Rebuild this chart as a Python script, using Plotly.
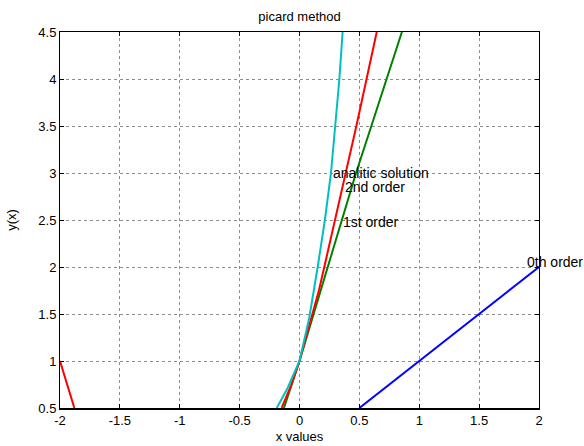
import plotly.graph_objects as go

# ---- data ----
analytic_x = [-0.19, -0.1, 0.0, 0.08, 0.152, 0.212, 0.263, 0.298, 0.333, 0.36]
analytic_y = [0.5, 0.71, 1.0, 1.45, 2.0, 2.5, 3.0, 3.5, 4.0, 4.5]

second_x = [-2.0, -1.88, None, -0.149, -0.07, 0.0, 0.08, 0.163, 0.207, 0.296, 0.39, 0.475, 0.56, 0.645]
second_y = [1.0, 0.5, None, 0.5, 0.74, 1.0, 1.36, 1.755, 2.0, 2.5, 3.0, 3.5, 4.0, 4.5]

first_x = [-0.13, 0.0, 0.118, 0.235, 0.35, 0.472, 0.60, 0.73, 0.839, 0.855]
first_y = [0.5, 1.0, 1.5, 2.0, 2.5, 3.0, 3.5, 4.0, 4.44, 4.5]

zeroth_x = [0.5, 1.0, 1.5, 2.0]
zeroth_y = [0.5, 1.0, 1.5, 2.0]

x_ticks = [-2, -1.5, -1, -0.5, 0, 0.5, 1, 1.5, 2]
x_ticktext = ["-2", "-1.5", "-1", "-0.5", "0", "0.5", "1", "1.5", "2"]
y_ticks = [0.5, 1, 1.5, 2, 2.5, 3, 3.5, 4, 4.5]
y_ticktext = ["0.5", "1", "1.5", "2", "2.5", "3", "3.5", "4", "4.5"]

FONT = "Liberation Sans, Arial, Helvetica, sans-serif"

fig = go.Figure()
fig.add_trace(go.Scatter(x=zeroth_x, y=zeroth_y, mode="lines",
                         line=dict(color="#0000FF", width=2), name="0th order"))
fig.add_trace(go.Scatter(x=first_x, y=first_y, mode="lines",
                         line=dict(color="#008000", width=2), name="1st order"))
fig.add_trace(go.Scatter(x=second_x, y=second_y, mode="lines", connectgaps=False,
                         line=dict(color="#FF0000", width=2), name="2nd order"))
fig.add_trace(go.Scatter(x=analytic_x, y=analytic_y, mode="lines",
                         line=dict(color="#00BFBF", width=2), name="analitic solution"))

labels = [
    ("analitic solution", 0.277, 3.0),
    ("2nd order", 0.38, 2.855),
    ("1st order", 0.36, 2.48),
    ("0th order", 1.9, 2.05),
]
for txt, lx, ly in labels:
    fig.add_annotation(x=lx, y=ly, text=txt, showarrow=False,
                       xanchor="left", yanchor="middle", xshift=-2,
                       font=dict(family=FONT, size=14, color="black"))

axis_common = dict(
    showline=True, mirror="ticks", linecolor="black",
    ticks="inside", ticklen=4, tickcolor="black",
    showgrid=True, gridcolor="rgba(0,0,0,0.45)", griddash="dot", gridwidth=1,
    zeroline=False, tickfont=dict(family=FONT, size=13, color="black"),
)

fig.update_xaxes(range=[-2, 2], tickvals=x_ticks, ticktext=x_ticktext,
                 linewidth=1.5,
                 title=dict(text="x values", font=dict(family=FONT, size=13, color="black"),
                            standoff=5),
                 **axis_common)
fig.update_yaxes(range=[0.5, 4.5], tickvals=y_ticks, ticktext=y_ticktext,
                 linewidth=1,
                 title=dict(text="y(x)", font=dict(family=FONT, size=13, color="black"),
                            standoff=18),
                 **axis_common)

fig.update_layout(
    width=584, height=446,
    margin=dict(l=60, r=45, t=32, b=38, autoexpand=False),
    paper_bgcolor="white", plot_bgcolor="white",
    showlegend=False,
    hovermode=False,
    title=dict(text="picard method", x=0.5, xanchor="center", y=0.964, yanchor="middle",
               xref="paper",
               font=dict(family=FONT, size=13, color="black")),
)

fig.write_html(
    "out.html",
    config={"displayModeBar": False, "staticPlot": True},
    post_script="document.body.style.margin='0';document.body.style.overflow='hidden';",
)
